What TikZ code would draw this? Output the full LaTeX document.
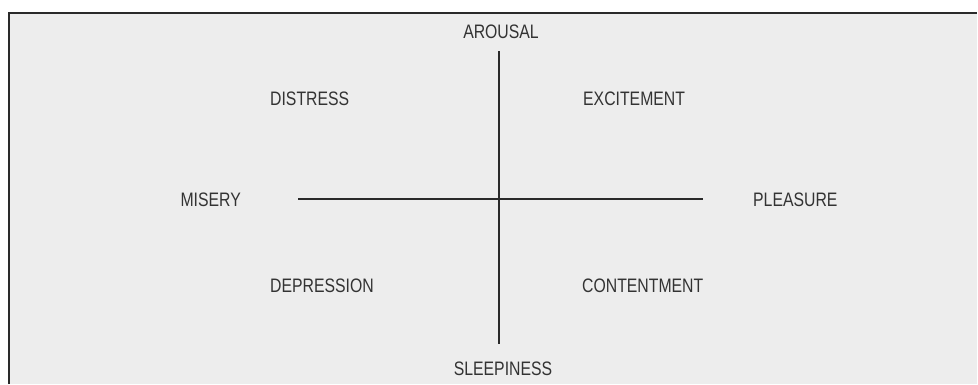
\documentclass[tikz,border=0pt]{standalone}
\usepackage{fontspec}
\setmainfont[FakeStretch=0.81]{Liberation Sans}
\definecolor{panel}{HTML}{EDEDED}
\definecolor{ink}{HTML}{2A2A2A}
\definecolor{txt}{HTML}{333333}
\begin{document}
\begin{tikzpicture}[x=1pt,y=-1pt,
  lbl/.style={inner sep=0pt,text=txt,font=\fontsize{19.5}{20}\selectfont},
  axis/.style={draw=ink,line width=2pt}]
\useasboundingbox (0,0) rectangle (978,384);
\fill[panel] (9,13) rectangle (977,384);
\draw[ink,line width=2pt] (9,384) -- (9,13) -- (977,13);
\coordinate (top) at (499,51);
\coordinate (bot) at (499,344);
\coordinate (lft) at (298,199);
\coordinate (rgt) at (703,199);
\draw[axis] (top) -- (bot);
\draw[axis] (lft) -- (rgt);
\node[lbl] (arousal) at (501,32) {AROUSAL};
\node[lbl] (sleep) at (503,369) {SLEEPINESS};
\node[lbl,anchor=east] (misery) at (241,200) {MISERY};
\node[lbl,anchor=west] (pleasure) at (753,200) {PLEASURE};
\node[lbl,anchor=west] (distress) at (270,99) {DISTRESS};
\node[lbl,anchor=west] (excite) at (583,99) {EXCITEMENT};
\node[lbl,anchor=west] (depress) at (270,286) {DEPRESSION};
\node[lbl,anchor=west] (content) at (582,286) {CONTENTMENT};
\end{tikzpicture}
\end{document}
